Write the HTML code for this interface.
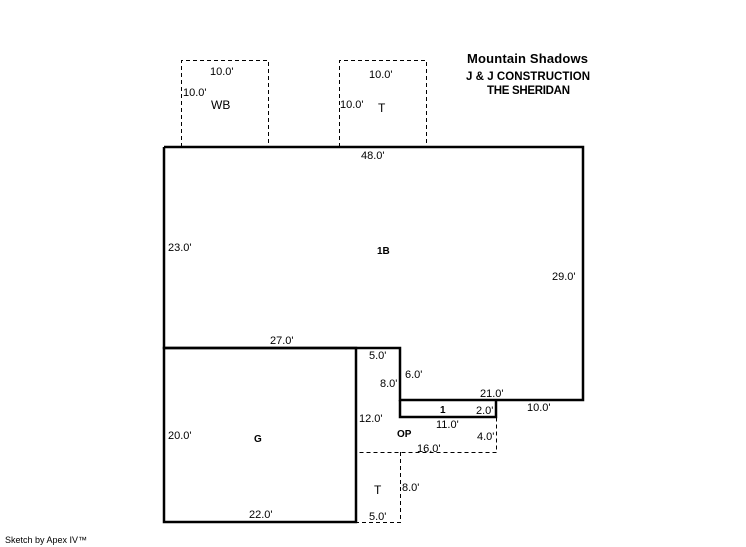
<!DOCTYPE html>
<html><head><meta charset="utf-8"><style>
body{margin:0;background:#fff;width:746px;height:547px;overflow:hidden}
svg{display:block}
text{font-family:"Liberation Sans",Arial,sans-serif;font-size:11px;fill:#000}
.b{font-weight:bold}
</style></head><body>
<svg width="746" height="547" viewBox="0 0 746 547" xmlns="http://www.w3.org/2000/svg">
<g fill="none" stroke="#000" stroke-width="1" stroke-dasharray="4,3">
<path d="M181.5 147V60.5H268.5V147"/>
<path d="M339.5 147V60.5H426.5V147"/>
<path d="M400 417V416.5H496.5V452.5H356"/>
<path d="M400.5 452V522.5H356"/>
</g>
<g fill="none" stroke="#000" stroke-width="2.5">
<path d="M164 147H583V400H400V348H164V147"/>
<rect x="164" y="348" width="192" height="174"/>
<path d="M400 400V417H496V400"/>
</g>
<text x="210" y="75">10.0'</text>
<text x="183" y="96">10.0'</text>
<text x="211" y="109" style="font-size:12px">WB</text>
<text x="369" y="78">10.0'</text>
<text x="340" y="108">10.0'</text>
<text x="378" y="112" style="font-size:12px">T</text>
<text class="b" x="467" y="63" textLength="121" style="font-size:13px">Mountain Shadows</text>
<text class="b" x="466" y="80" textLength="124" style="font-size:11.5px">J &amp; J CONSTRUCTION</text>
<text class="b" x="487" y="94" textLength="83" style="font-size:11.5px">THE SHERIDAN</text>
<text x="361" y="159">48.0'</text>
<text x="168" y="251">23.0'</text>
<text class="b" x="377" y="254" style="font-size:10px">1B</text>
<text x="552" y="280">29.0'</text>
<text x="270" y="344">27.0'</text>
<text x="369" y="359">5.0'</text>
<text x="405" y="378">6.0'</text>
<text x="380" y="387">8.0'</text>
<text x="480" y="397">21.0'</text>
<text class="b" x="440" y="413" style="font-size:10px">1</text>
<text x="476" y="414">2.0'</text>
<text x="527" y="411">10.0'</text>
<text x="359" y="422">12.0'</text>
<text x="436" y="428">11.0'</text>
<text class="b" x="397" y="437" style="font-size:10px">OP</text>
<text x="477" y="440">4.0'</text>
<text x="417" y="452">16.0'</text>
<text x="168" y="439">20.0'</text>
<text class="b" x="254" y="442" style="font-size:10px">G</text>
<text x="374" y="494" style="font-size:12px">T</text>
<text x="402" y="491">8.0'</text>
<text x="249" y="518">22.0'</text>
<text x="369" y="520">5.0'</text>
<text x="5" y="543" style="font-size:9px">Sketch by Apex IV™</text>
</svg>
</body></html>
